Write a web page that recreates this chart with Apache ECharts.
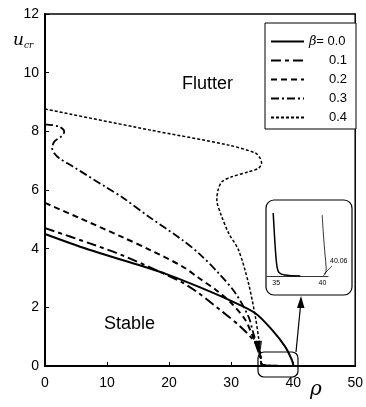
<!DOCTYPE html>
<html>
<head>
<meta charset="utf-8">
<script src="https://cdn.jsdelivr.net/npm/echarts@6/dist/echarts.min.js"></script>
<style>
  html, body { margin: 0; padding: 0; background: #fff; }
  #chart { width: 366px; height: 407px; }
</style>
</head>
<body>
<div id="chart"></div>
<script>
// 曲线数据 (rho, u_cr)
const betaNames = ["β = 0.0", "0.1", "0.2", "0.3", "0.4"];
const beta00 = [[0, 4.5], [7, 3.97], [15, 3.45], [20, 3.1], [25, 2.68], [30, 2.22], [33.9, 1.8], [36.6, 1.23], [38.7, 0.66], [39.8, 0.2], [40.06, 0]];
const beta01 = [[0, 4.7], [7.1, 4.19], [12.4, 3.78], [17.9, 3.27], [22.1, 2.85], [24.8, 2.48], [28, 1.95], [31.2, 1.4], [33.1, 1.0], [34.3, 0.65], [34.75, 0.3], [34.85, 0.08], [35.5, 0.02], [40.06, 0]];
const beta02 = [[0, 5.56], [5.5, 5.05], [12.4, 4.4], [16.8, 3.97], [22.1, 3.4], [24.8, 3.0], [27.5, 2.6], [30.1, 2.13], [32.3, 1.57], [33.3, 1.1], [34.2, 0.65], [34.75, 0.3], [34.85, 0.08], [35.5, 0.02], [40.06, 0]];
const beta03 = [[0, 8.24], [2.3, 8.16], [3.1, 7.99], [2.6, 7.82], [1.5, 7.65], [1.15, 7.42], [1.5, 7.25], [2.3, 7.08], [4.5, 6.8], [9.8, 6.1], [12.4, 5.76], [16.8, 5.08], [22.1, 4.3], [24.8, 3.84], [28, 3.16], [30.7, 2.48], [32.8, 1.68], [33.6, 1.11], [34.3, 0.65], [34.75, 0.3], [34.85, 0.08], [35.5, 0.02], [40.06, 0]];
const beta04 = [[0, 8.76], [16.8, 8.05], [29.6, 7.53], [33.9, 7.26], [34.7, 7.08], [34.9, 6.91], [34.4, 6.74], [32.8, 6.62], [30.1, 6.45], [28.5, 6.28], [27.9, 6.0], [27.7, 5.66], [28.3, 5.2], [29.6, 4.53], [31.2, 3.95], [32.8, 2.82], [33.9, 1.68], [34.4, 1.0], [34.6, 0.65], [34.75, 0.3], [34.85, 0.08], [35.5, 0.02], [40.06, 0]];
// 放大图中的曲线
const insetLeft = [[34.67, 0.9], [34.8, 0.6], [34.95, 0.3], [35.1, 0.12], [35.3, 0.05], [35.9, 0.015], [37.6, 0]];
const insetRight = [[39.97, 0.87], [40.1, 0.6], [40.28, 0.3], [40.4, 0.12], [40.35, 0.04], [40.06, 0]];

const xTicks = { min: 0, max: 50, interval: 10 };
const yTicks = { min: 0, max: 12, interval: 2 };
const insetTicks = [35, 40];

const font = "'Liberation Sans Narrow', 'Liberation Sans', Arial, sans-serif";
// 箭头所在的数据点序号
const arrowAt = [-1, 9, 10, 18, 18];

const lineStyles = [
  { width: 2, type: 'solid' },
  { width: 2, type: [10, 4, 4, 4] },
  { width: 2, type: [6, 4] },
  { width: 1.8, type: [8, 3, 2, 3] },
  { width: 1.5, type: [3, 2] }
];
const allData = [beta00, beta01, beta02, beta03, beta04];

let myChart = echarts.init(document.getElementById('chart'), null, { renderer: 'canvas' });

let series = allData.map(function (d, i) {
  return {
    name: betaNames[i],
    type: 'line',
    xAxisIndex: 0,
    yAxisIndex: 0,
    data: d,
    symbol: 'none',
    smooth: 0.3,
    lineStyle: Object.assign({ color: '#000' }, lineStyles[i]),
    itemStyle: { color: '#000' },
    z: 3
  };
});
// 箭头
let arrowPts = [];
allData.forEach(function (d, i) {
  if (arrowAt[i] >= 0) arrowPts.push(d[arrowAt[i]]);
});
series.push({
  type: 'scatter',
  xAxisIndex: 0,
  yAxisIndex: 0,
  symbol: 'triangle',
  symbolSize: [6, 12],
  symbolRotate: 185,
  itemStyle: { color: '#000' },
  data: arrowPts,
  z: 4
});
series.push({
  type: 'line', xAxisIndex: 1, yAxisIndex: 1, data: insetLeft, symbol: 'none', smooth: 0.3,
  lineStyle: { color: '#000', width: 1.5 }
});
series.push({
  type: 'line', xAxisIndex: 1, yAxisIndex: 1, data: insetRight, symbol: 'none', smooth: 0.3,
  lineStyle: { color: '#000', width: 0.8 }
});

let option = {
  backgroundColor: '#fff',
  animation: false,
  textStyle: { fontFamily: font },
  grid: [
    { left: 45, right: 9, top: 14, bottom: 41, show: true, borderColor: '#000', borderWidth: 1.5 },
    { left: 267, top: 206, width: 61, height: 70 }
  ],
  legend: {
    data: betaNames,
    orient: 'vertical',
    left: 265,
    top: 23,
    padding: [12, 9, 5, 5],
    itemGap: 6,
    itemWidth: 33,
    itemHeight: 12,
    borderColor: '#000',
    borderWidth: 1,
    backgroundColor: '#fff',
    itemStyle: { opacity: 0 },
    formatter: function (name) {
      if (name.indexOf('β') === 0) {
        return '{b|β}{e|= 0.0}';
      }
      return '{n|' + name + '}';
    },
    textStyle: {
      fontFamily: font,
      fontSize: 13,
      color: '#000',
      rich: {
        b: { fontFamily: 'DejaVu Serif', fontStyle: 'italic', fontSize: 13, color: '#000' },
        e: { width: 29, align: 'right', fontSize: 13, color: '#000', fontFamily: font },
        n: { width: 38, align: 'right', fontSize: 13, color: '#000', fontFamily: font }
      }
    }
  },
  xAxis: [{
    type: 'value',
    gridIndex: 0,
    min: xTicks.min,
    max: xTicks.max,
    interval: xTicks.interval,
    axisLine: { show: true, lineStyle: { color: '#000', width: 2 } },
    axisTick: { show: true, inside: true, length: 4, lineStyle: { color: '#000' } },
    axisLabel: { color: '#000', fontSize: 14, margin: 10, fontFamily: font },
    splitLine: { show: false }
  }, {
    type: 'value',
    gridIndex: 1,
    min: 34,
    max: 40.6,
    axisLine: { show: true, onZero: false, lineStyle: { color: '#000', width: 0.8 } },
    axisTick: { show: false },
    axisLabel: { show: true, color: '#000', fontSize: 7, margin: 4, customValues: insetTicks, fontFamily: font },
    splitLine: { show: false }
  }],
  yAxis: [{
    type: 'value',
    gridIndex: 0,
    min: yTicks.min,
    max: yTicks.max,
    interval: yTicks.interval,
    axisLine: { show: true, lineStyle: { color: '#000', width: 2 } },
    axisTick: { show: true, inside: true, length: 4, lineStyle: { color: '#000' } },
    axisLabel: { color: '#000', fontSize: 14, margin: 6, fontFamily: font },
    splitLine: { show: false }
  }, {
    type: 'value',
    gridIndex: 1,
    min: 0,
    max: 1,
    show: false
  }],
  graphic: [
    // 坐标轴标题
    {
      type: 'text', left: 13, top: 32, z: 10,
      style: {
        text: '{u|u}{s|cr}',
        rich: {
          u: { fontFamily: 'DejaVu Serif', fontStyle: 'italic', fontSize: 17, fill: '#000' },
          s: { fontFamily: 'DejaVu Serif', fontStyle: 'italic', fontSize: 9, fill: '#000', padding: [10, 0, 0, 0] }
        }
      }
    },
    {
      type: 'text', left: 310, top: 380, z: 10,
      style: { text: 'ρ', fontFamily: 'DejaVu Serif', fontStyle: 'italic', fontSize: 20, fill: '#000' }
    },
    {
      type: 'text', left: 182, top: 75, z: 10,
      style: { text: 'Flutter', fontFamily: font, fontSize: 18, fill: '#000' }
    },
    {
      type: 'text', left: 104, top: 315, z: 10,
      style: { text: 'Stable', fontFamily: font, fontSize: 18, fill: '#000' }
    },
    // 放大框
    {
      type: 'rect', z: 10,
      shape: { x: 266, y: 200, width: 86, height: 95, r: 8 },
      style: { fill: 'none', stroke: '#000', lineWidth: 1.2 }
    },
    {
      type: 'rect', z: 10,
      shape: { x: 258, y: 352, width: 40, height: 25, r: 6 },
      style: { fill: 'none', stroke: '#000', lineWidth: 1.2 }
    },
    {
      type: 'line', z: 10,
      shape: { x1: 296, y1: 352, x2: 300.5, y2: 306 },
      style: { stroke: '#000', lineWidth: 1.2 }
    },
    {
      type: 'polygon', z: 10,
      shape: { points: [[301, 296], [297, 308], [304.5, 308]] },
      style: { fill: '#000' }
    },
    {
      type: 'text', left: 330, top: 258, z: 10,
      style: { text: '40.06', fontFamily: font, fontSize: 7, fill: '#000' }
    },
    {
      type: 'line', z: 10,
      shape: { x1: 332, y1: 266, x2: 324, y2: 274 },
      style: { stroke: '#000', lineWidth: 0.7 }
    }
  ],
  series: series
};

myChart.setOption(option);
window.addEventListener('resize', function () {
  myChart.resize();
});
</script>
</body>
</html>
